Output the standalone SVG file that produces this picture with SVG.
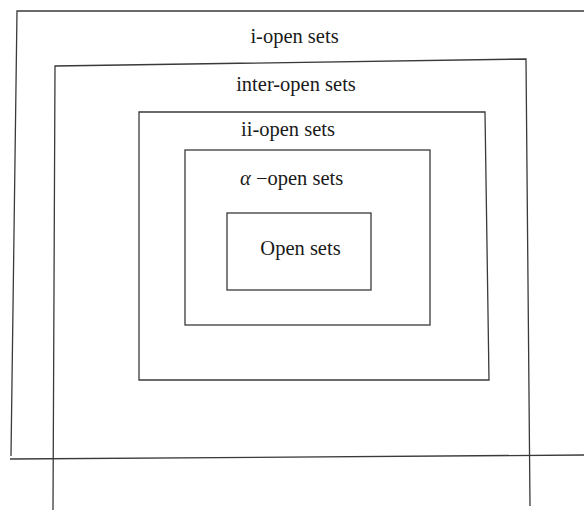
<svg xmlns="http://www.w3.org/2000/svg" width="584" height="510" viewBox="0 0 584 510">
  <style>
    .edge { fill: none; stroke: #3a3a3a; stroke-width: 1.3; }
    .label { font-family: "Liberation Serif", "Times New Roman", serif; fill: #1a1a1a; text-anchor: middle; font-size: 20.5px; }
  </style>
  <rect width="584" height="510" fill="#ffffff"/>

  <!-- nested set boxes, outermost first -->
  <g id="i-open">
    <path class="edge" d="M584,11 L17,11 L11,456"/>
    <path class="edge" d="M10,459 L584,455"/>
    <text class="label" x="294.5" y="43">i-open sets</text>
  </g>

  <g id="inter-open">
    <path class="edge" d="M53,510 L55,66 L526,59 L530,506"/>
    <text class="label" x="296" y="91">inter-open sets</text>
  </g>

  <g id="ii-open">
    <path class="edge" d="M139,112 L485,112 L489,380 L139,380 Z"/>
    <text class="label" x="288" y="136">ii-open sets</text>
  </g>

  <g id="alpha-open">
    <rect class="edge" x="185" y="150" width="245" height="175"/>
    <text class="label" x="240" y="185" style="text-anchor:start"><tspan font-style="italic">α</tspan> −open sets</text>
  </g>

  <g id="open">
    <rect class="edge" x="227" y="213" width="144" height="77"/>
    <text class="label" x="300.5" y="255">Open sets</text>
  </g>
</svg>
